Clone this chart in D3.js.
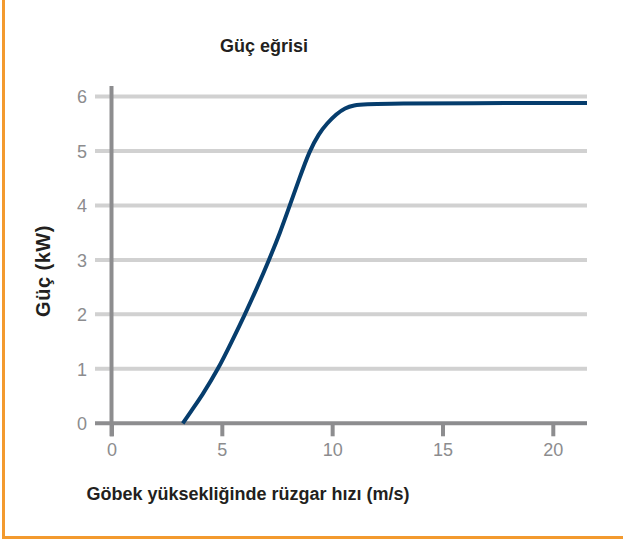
<!DOCTYPE html>
<html>
<head>
<meta charset="utf-8">
<script src="https://cdn.jsdelivr.net/npm/d3@7"></script>
<style>
	body { margin: 0; background: #fff; }
	svg { display: block; font-family: "Liberation Sans", Arial, Helvetica, sans-serif; }
	.tick text { fill: #8c8c8e; font-size: 18px; }
</style>
</head>
<body>
<div id="chart"></div>
<script>
// wind speed (m/s) and power (kW)
const windSpeed = [3.23, 3.6, 4.09, 4.84, 5.45, 6.05, 6.61, 7.14, 7.64, 8.08, 8.52, 8.97, 9.4, 9.75, 10.2, 10.58, 11.0, 11.41, 13, 16, 21.55];
const power     = [0, 0.22, 0.5, 1.0, 1.5, 2.0, 2.5, 3.0, 3.5, 4.0, 4.5, 5.0, 5.32, 5.5, 5.68, 5.79, 5.84, 5.86, 5.87, 5.88, 5.88];
const xTicks = [0, 5, 10, 15, 20];
const yTicks = [0, 1, 2, 3, 4, 5, 6];

const title = "Güç eğrisi";
const xLabel = "Göbek yüksekliğinde rüzgar hızı (m/s)";
const yLabel = "Güç (kW)";

const width = 623, height = 541;
const gridLeft = 95;
const axisColor = "#8d8d8f", gridColor = "#d1d1d1", lineColor = "#063d6d";

const svg = d3.select("#chart").append("svg")
	.attr("width", width)
	.attr("height", height);

const xScale = d3.scaleLinear().domain([0, 21.55]).range([111.5, 587]);
const yScale = d3.scaleLinear().domain([0, 6]).range([423.3, 96.5]);

// frame (left + bottom only)
svg.append("path")
	.attr("d", "M3.5,0 V537.5 H623")
	.attr("fill", "none")
	.attr("stroke", "#f39a2e")
	.attr("stroke-width", 3);

// gridlines
svg.append("g")
	.selectAll("line")
	.data(yTicks.filter(d => d > 0))
	.enter()
	.append("line")
	.attr("x1", gridLeft)
	.attr("x2", xScale.range()[1])
	.attr("y1", d => yScale(d))
	.attr("y2", d => yScale(d))
	.attr("stroke", gridColor)
	.attr("stroke-width", 4);

// y axis labels
const yAxis = svg.append("g")
	.attr("transform", "translate(" + (gridLeft - 8) + ",0)")
	.call(d3.axisLeft(yScale).tickValues(yTicks).tickFormat(d3.format("d")).tickSize(0).tickPadding(0));
yAxis.select(".domain").remove();
yAxis.selectAll(".tick text").attr("dy", "0.36em");

// x axis with ticks below the baseline
const xAxis = svg.append("g")
	.attr("transform", "translate(0," + yScale(0) + ")")
	.call(d3.axisBottom(xScale).tickValues(xTicks).tickSize(13).tickPadding(7));
xAxis.select(".domain").remove();
xAxis.selectAll(".tick line")
	.attr("stroke", axisColor)
	.attr("stroke-width", 4);

// vertical axis line
svg.append("line")
	.attr("x1", xScale(0)).attr("x2", xScale(0))
	.attr("y1", 86).attr("y2", yScale(0) + 13)
	.attr("stroke", axisColor)
	.attr("stroke-width", 4);

// baseline
svg.append("line")
	.attr("x1", gridLeft).attr("x2", xScale.range()[1])
	.attr("y1", yScale(0)).attr("y2", yScale(0))
	.attr("stroke", axisColor)
	.attr("stroke-width", 4);

// power curve
const curveData = windSpeed.map((d, i) => ({ v: d, p: power[i] }));
svg.append("path")
	.datum(curveData)
	.attr("fill", "none")
	.attr("stroke", lineColor)
	.attr("stroke-width", 4)
	.attr("d", d3.line()
		.x(d => xScale(d.v))
		.y(d => yScale(d.p))
		.curve(d3.curveBasis));

// titles
svg.append("text")
	.attr("x", 264).attr("y", 52)
	.attr("text-anchor", "middle")
	.attr("font-size", 18).attr("font-weight", "bold")
	.attr("fill", "#231f20")
	.text(title);

svg.append("text")
	.attr("x", 248).attr("y", 500)
	.attr("text-anchor", "middle")
	.attr("font-size", 18).attr("font-weight", "bold")
	.attr("fill", "#231f20")
	.text(xLabel);

svg.append("text")
	.attr("transform", "translate(50,271) rotate(-90)")
	.attr("text-anchor", "middle")
	.attr("font-size", 20).attr("font-weight", "bold")
	.attr("letter-spacing", 0.5)
	.attr("fill", "#231f20")
	.text(yLabel);
</script>
</body>
</html>
